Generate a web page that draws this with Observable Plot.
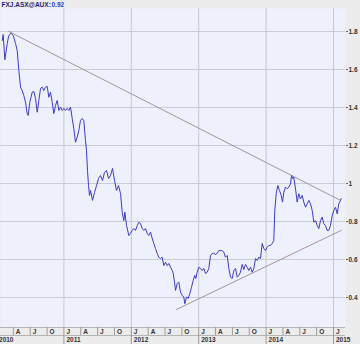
<!DOCTYPE html>
<html><head><meta charset="utf-8">
<script src="https://cdn.jsdelivr.net/npm/d3@7"></script>
<script src="https://cdn.jsdelivr.net/npm/@observablehq/plot@0.6"></script>
<style>
html,body{margin:0;padding:0;background:#ececec;}
#chart svg{display:block;}
</style>
</head><body><div id="chart"></div>
<script>
// Time as decimal years, price in AUD
const years = [
2010.085,2010.099,2010.123,2010.159,2010.182,2010.218,2010.248,2010.282,2010.307,2010.331,
2010.356,2010.381,2010.405,2010.430,2010.455,2010.470,2010.494,2010.530,2010.553,2010.579,
2010.604,2010.628,2010.653,2010.678,2010.702,2010.727,2010.752,2010.776,2010.801,2010.826,
2010.850,2010.875,2010.901,2010.924,2010.950,2010.975,2010.999,2011.024,2011.049,2011.073,
2011.098,2011.123,2011.147,2011.172,2011.197,2011.221,2011.246,2011.271,2011.295,2011.320,
2011.335,2011.350,2011.365,2011.380,2011.395,2011.424,2011.454,2011.484,2011.513,2011.543,
2011.573,2011.602,2011.632,2011.662,2011.691,2011.721,2011.751,2011.780,2011.810,2011.840,
2011.865,2011.889,2011.904,2011.929,2011.964,2011.988,2012.013,2012.037,2012.062,2012.088,
2012.111,2012.136,2012.162,2012.185,2012.211,2012.236,2012.259,2012.285,2012.310,2012.334,
2012.359,2012.384,2012.408,2012.433,2012.458,2012.482,2012.507,2012.533,2012.556,2012.582,
2012.607,2012.622,2012.641,2012.656,2012.681,2012.705,2012.730,2012.755,2012.779,2012.794,
2012.819,2012.844,2012.868,2012.893,2012.918,2012.942,2012.957,2012.978,2013.001,2013.027,
2013.052,2013.076,2013.101,2013.126,2013.150,2013.175,2013.200,2013.224,2013.249,2013.275,
2013.298,2013.323,2013.349,2013.372,2013.398,2013.423,2013.447,2013.472,2013.497,2013.521,
2013.546,2013.571,2013.595,2013.620,2013.645,2013.669,2013.694,2013.720,2013.743,2013.769,
2013.794,2013.818,2013.843,2013.868,2013.892,2013.917,2013.942,2013.966,2013.991,2014.016,
2014.040,2014.065,2014.090,2014.114,2014.129,2014.150,2014.174,2014.199,2014.224,2014.243,
2014.263,2014.288,2014.313,2014.337,2014.362,2014.377,2014.396,2014.411,2014.426,2014.446,
2014.461,2014.485,2014.510,2014.535,2014.559,2014.585,2014.610,2014.634,2014.659,2014.684,
2014.708,2014.733,2014.758,2014.782,2014.807,2014.832,2014.856,2014.881,2014.906,2014.930,
2014.955,2014.981,2015.004,2015.030,2015.055,2015.078,2015.104,2015.114
];
const prices = [
1.753,1.784,1.651,1.737,1.779,1.791,1.779,1.737,1.700,1.595,
1.507,1.489,1.463,1.428,1.368,1.358,1.428,1.481,1.484,1.447,
1.375,1.437,1.500,1.507,1.489,1.507,1.511,1.454,1.481,1.428,
1.368,1.411,1.437,1.384,1.402,1.384,1.395,1.384,1.395,1.384,
1.402,1.342,1.289,1.217,1.244,1.279,1.332,1.342,1.332,1.226,
1.174,1.068,0.989,0.937,0.963,0.911,0.953,0.989,1.026,1.042,
1.016,1.058,1.068,1.026,1.042,1.079,1.016,0.963,0.989,0.947,
0.849,0.805,0.849,0.779,0.726,0.737,0.753,0.763,0.753,0.779,
0.796,0.789,0.763,0.753,0.763,0.737,0.726,0.744,0.711,0.684,
0.658,0.632,0.612,0.605,0.612,0.568,0.586,0.568,0.579,0.559,
0.542,0.526,0.481,0.437,0.474,0.481,0.428,0.411,0.402,0.367,
0.402,0.395,0.421,0.454,0.489,0.516,0.500,0.533,0.559,0.553,
0.542,0.553,0.526,0.533,0.553,0.621,0.632,0.632,0.626,0.633,
0.647,0.647,0.647,0.638,0.612,0.621,0.553,0.507,0.500,0.542,
0.553,0.507,0.516,0.533,0.574,0.547,0.574,0.559,0.542,0.559,
0.533,0.553,0.605,0.595,0.612,0.605,0.684,0.658,0.647,0.665,
0.674,0.674,0.684,0.700,0.858,0.947,0.989,0.963,0.937,0.902,
0.954,0.981,0.972,0.981,0.998,1.042,1.025,1.033,0.998,0.946,
0.902,0.946,0.919,0.937,0.902,0.875,0.893,0.911,0.893,0.858,
0.796,0.805,0.779,0.762,0.805,0.823,0.788,0.779,0.753,0.753,
0.779,0.832,0.858,0.875,0.840,0.893,0.911,0.920
];
const trendUpperYears = [2010.182, 2015.104];
const trendUpperValues = [1.800, 0.911];
const trendLowerYears = [2012.671, 2015.114];
const trendLowerValues = [0.337, 0.753];
const yTicks = [0.4, 0.6, 0.8, 1, 1.2, 1.4, 1.6, 1.8];
const yearTicks = [2010, 2011, 2012, 2013, 2014, 2015];
const monthLetters = ["J", "A", "J", "O"];
const titleSymbol = "FXJ.ASX@AUX:";
const titleValue = "0.92";

const xDomain = [2010.059, 2015.178];
const yDomain = [0.242, 1.921];

const series = years.map((t, i) => ({t, v: prices[i]}));
const upper = trendUpperYears.map((t, i) => ({t, v: trendUpperValues[i]}));
const lower = trendLowerYears.map((t, i) => ({t, v: trendLowerValues[i]}));
const quarters = [];
yearTicks.forEach(y => monthLetters.forEach((m, q) => {
  const t = y + q / 4;
  if (t >= xDomain[0] && t <= xDomain[1]) quarters.push({t, m});
}));
const monthOnly = quarters.filter(d => d.m && (d.t % 1) !== 0).map(d => d.t);
const yearsIn = yearTicks.filter(t => t >= xDomain[0] && t <= xDomain[1]);

const font = "Liberation Sans, Arial, sans-serif";
const chart = Plot.plot({
  width: 360,
  height: 344,
  marginLeft: 0,
  marginRight: 15,
  marginTop: 8,
  marginBottom: 17,
  style: {background: "#ececec", fontFamily: font, fontSize: "6.5px", fontWeight: "bold", color: "#333"},
  x: {type: "linear", domain: xDomain, axis: null},
  y: {domain: yDomain, axis: null},
  marks: [
    Plot.frame({fill: "#eef0fb", stroke: null}),
    Plot.ruleY(yTicks, {stroke: "#c9cbd6", strokeWidth: 1}),
    Plot.ruleX(yearsIn, {stroke: "#c4c6d2", strokeWidth: 1}),
    Plot.axisY({anchor: "right", ticks: yTicks, tickSize: 2, tickPadding: 1, tickFormat: d => String(d), label: null, stroke: "#666", fill: "#333", fontWeight: "bold"}),
    Plot.ruleY([yDomain[0]], {stroke: "#b5b5b5"}),
    Plot.ruleY([yDomain[0]], {stroke: "#b5b5b5", dy: 8}),
    Plot.axisX({anchor: "bottom", ticks: monthOnly, tickSize: 8, fill: "none", stroke: "#9a9a9a", label: null}),
    Plot.axisX({anchor: "bottom", ticks: yearsIn, tickSize: 17, fill: "none", stroke: "#9a9a9a", label: null}),
    Plot.text(quarters, {x: "t", text: "m", frameAnchor: "bottom", dy: 4.5, dx: 2.5, textAnchor: "start", lineAnchor: "middle", fill: "#333"}),
    Plot.text(yearTicks, {x: d => d, text: d => String(d), frameAnchor: "bottom", dy: 12.5, dx: 2.5, textAnchor: "start", lineAnchor: "middle", fill: "#333"}),
    Plot.line(upper, {x: "t", y: "v", stroke: "#a3959b", strokeWidth: 1}),
    Plot.line(lower, {x: "t", y: "v", stroke: "#a3959b", strokeWidth: 1}),
    Plot.line(series, {x: "t", y: "v", stroke: "#3c3cc0", strokeWidth: 1, strokeLinejoin: "round"}),
    Plot.text([titleSymbol], {text: d => d, frameAnchor: "top-left", dx: 1, dy: -4, textAnchor: "start", lineAnchor: "middle", fill: "#1e1e78", fontSize: 6.5}),
    Plot.text([titleValue], {text: d => d, frameAnchor: "top-left", dx: 51, dy: -4, textAnchor: "start", lineAnchor: "middle", fill: "#2f3fc8", fontSize: 6.5})
  ]
});
document.getElementById("chart").appendChild(chart);
</script>
</body></html>
